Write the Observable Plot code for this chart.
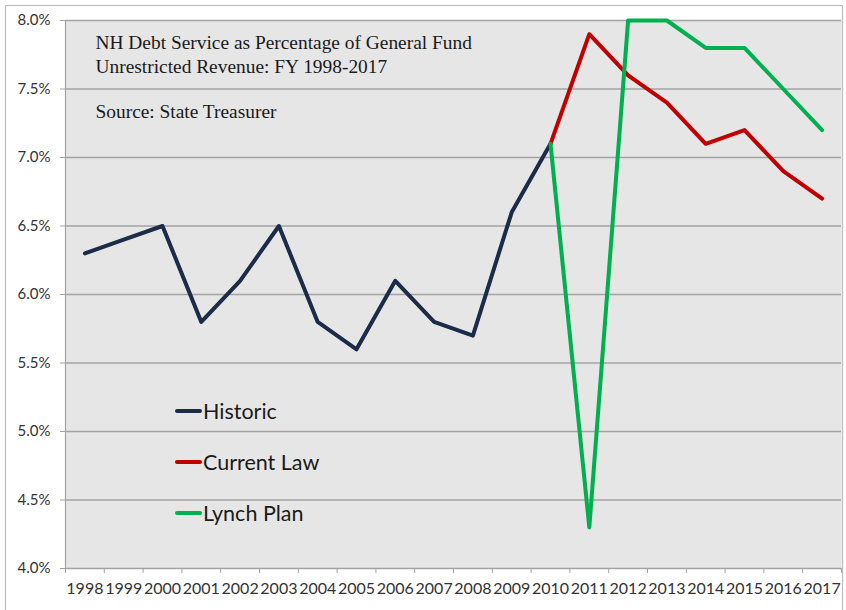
<!DOCTYPE html>
<html><head><meta charset="utf-8">
<script src="https://cdn.jsdelivr.net/npm/d3@7"></script>
<script src="https://cdn.jsdelivr.net/npm/@observablehq/plot@0.6"></script>
<style>
body{margin:0;background:#fff;}
#wrap{position:relative;width:846px;height:610px;overflow:hidden;}
#wrap svg{display:block;}
.legend{position:absolute;left:175px;top:0;font-family:Lato,sans-serif;font-size:21.5px;color:#1a1a1a;}
.legend .row{position:absolute;left:0;height:24px;display:flex;align-items:center;white-space:nowrap;}
.legend .sw{width:27px;height:4px;border-radius:2px;margin-right:1px;}
</style></head><body><div id="wrap"></div>
<script>
// ---- data ----
const yearLabels = [1998,1999,2000,2001,2002,2003,2004,2005,2006,2007,2008,2009,2010,2011,2012,2013,2014,2015,2016,2017];
const historicYears = [1998,1999,2000,2001,2002,2003,2004,2005,2006,2007,2008,2009,2010];
const historicValues = [6.3,6.4,6.5,5.8,6.1,6.5,5.8,5.6,6.1,5.8,5.7,6.6,7.1];
const projYears = [2010,2011,2012,2013,2014,2015,2016,2017];
const currentLawValues = [7.1,7.9,7.6,7.4,7.1,7.2,6.9,6.7];
const lynchPlanValues = [7.1,4.3,8.0,8.0,7.8,7.8,7.5,7.2];
const seriesNames = ["Historic","Current Law","Lynch Plan"];
const seriesColors = ["#1c2b48","#c00000","#00b04f"];
const yTicks = [4.0,4.5,5.0,5.5,6.0,6.5,7.0,7.5,8.0];
const titleLine1 = "NH Debt Service as Percentage of General Fund";
const titleLine2 = "Unrestricted Revenue: FY 1998-2017";
const sourceText = "Source: State Treasurer";

// ---- table ----
const rows = [
  ...historicYears.map((year,i)=>({series:"Historic",year,value:historicValues[i]})),
  ...projYears.map((year,i)=>({series:"Current Law",year,value:currentLawValues[i]})),
  ...projYears.map((year,i)=>({series:"Lynch Plan",year,value:lynchPlanValues[i]}))
];
const first = yearLabels[0], last = yearLabels[yearLabels.length-1];
const boundaries = yearLabels.map(y=>y-0.5).concat([last+0.5]);

const serif = "'Liberation Serif','Times New Roman',serif";
const sans = "Lato, sans-serif";
const titleStyle = {frameAnchor: "top-left", dx: 30, lineAnchor: "bottom", textAnchor: "start",
  fontFamily: serif, fontSize: 19.4, fill: "#1a1a1a"};

const chart = Plot.plot({
  width: 846,
  height: 610,
  marginLeft: 65,
  marginRight: 5,
  marginTop: 20,
  marginBottom: 42,
  style: {fontFamily: sans, background: "#fff", color: "#262626", overflow: "visible"},
  x: {type: "linear", domain: [first-0.5, last+0.5], label: null},
  y: {domain: [4, 8], label: null},
  color: {domain: seriesNames, range: seriesColors},
  marks: [
    Plot.frame({fill: "#e6e6e6", stroke: null}),
    Plot.gridY(yTicks, {stroke: "#a3a3a3", strokeOpacity: 1, strokeWidth: 1.4}),
    Plot.frame({anchor: "left", stroke: "#a3a3a3", strokeWidth: 1.2}),
    Plot.axisY(yTicks, {tickSize: 5, tickPadding: 10, stroke: "#a3a3a3", fontSize: 15, fill: "#333",
      label: null, tickFormat: d => d.toFixed(1) + "%"}),
    Plot.axisX(boundaries, {tickSize: 5, stroke: "#a3a3a3", label: null, tickFormat: () => ""}),
    Plot.axisX(yearLabels, {tickSize: 0, tickPadding: 14, fontSize: 16, fill: "#333",
      label: null, tickFormat: d => String(d)}),
    Plot.text([titleLine1], {...titleStyle, dy: 28}),
    Plot.text([titleLine2], {...titleStyle, dy: 52}),
    Plot.text([sourceText], {...titleStyle, dy: 97}),
    Plot.line(rows, {x: "year", y: "value", z: "series", stroke: "series", strokeWidth: 4,
      strokeLinejoin: "round", strokeLinecap: "round"})
  ]
});

const wrap = document.getElementById("wrap");
wrap.appendChild(chart);

// outer border frame
d3.select(chart).append("rect")
  .attr("x", 5.5).attr("y", 5.5).attr("width", 837).attr("height", 640)
  .attr("fill", "none").attr("stroke", "#bdbdbd").attr("stroke-width", 1.2);

// legend overlay
const legend = document.createElement("div");
legend.className = "legend";
const legendTops = [399, 449.5, 501];
seriesNames.forEach((name, i) => {
  const row = document.createElement("div");
  row.className = "row";
  row.style.top = legendTops[i] + "px";
  const sw = document.createElement("span");
  sw.className = "sw";
  sw.style.background = seriesColors[i];
  const t = document.createElement("span");
  t.textContent = name;
  row.appendChild(sw); row.appendChild(t);
  legend.appendChild(row);
});
wrap.appendChild(legend);
</script>
</body></html>
